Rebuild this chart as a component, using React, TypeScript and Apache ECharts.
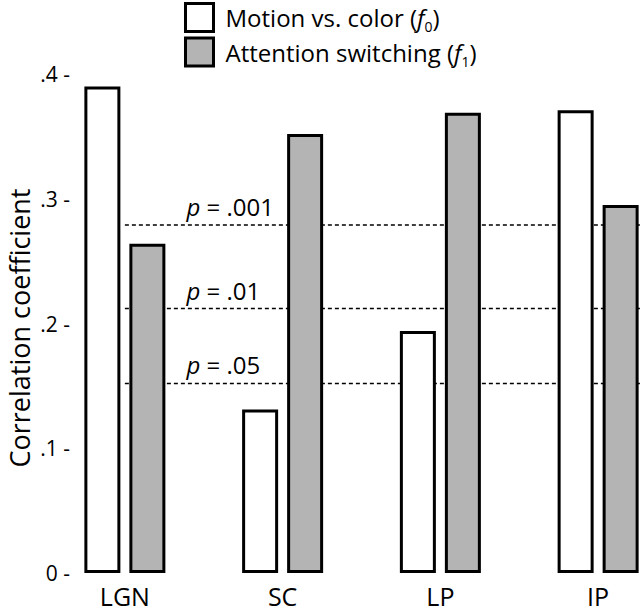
import React, { useEffect, useRef } from "react";
import * as echarts from "echarts";

const categories = ["LGN", "SC", "LP", "IP"];
const motionVsColor = [0.39, 0.131, 0.194, 0.371];
const attentionSwitching = [0.264, 0.352, 0.369, 0.295];
const pThresholds = [0.279, 0.212, 0.152];
const pLabels = [".001", ".01", ".05"];
const yTicks = [0, 0.1, 0.2, 0.3, 0.4];
const yTickLabels = ["0", ".1", ".2", ".3", ".4"];
const yAxisTitle = "Correlation coefficient";

const FONT = "Open Sans";

export default function App() {
  const ref = useRef<HTMLDivElement>(null);
  useEffect(() => {
    if (!ref.current) return;
    const chart = echarts.init(ref.current, undefined, { renderer: "svg" });
    const thresholdSeries = pThresholds.map((v, i) => ({
      type: "line",
      name: "p" + pLabels[i],
      xAxisIndex: 1,
      yAxisIndex: 0,
      z: 1,
      symbol: "circle",
      symbolSize: 1,
      showSymbol: true,
      itemStyle: { color: "rgba(0,0,0,0)" },
      lineStyle: { color: "#000", width: 1.5, type: [4, 3] },
      silent: true,
      data: [
        {
          value: [0, v],
          label: {
            show: true,
            position: [62, -18],
            align: "left",
            verticalAlign: "middle",
            formatter: "{i|p}{n| = " + pLabels[i] + "}",
            rich: {
              i: { fontFamily: FONT, fontSize: 24, fontStyle: "italic", color: "#000" },
              n: { fontFamily: FONT, fontSize: 24, color: "#000" },
            },
          },
        },
        { value: [3.5, v] },
      ],
    }));
    chart.setOption({
      animation: false,
      backgroundColor: "#fff",
      textStyle: { fontFamily: FONT },
      grid: {
        left: 46,
        top: 74,
        width: 631,
        height: 499,
        containLabel: false,
        outerBoundsMode: "none",
      },
      graphic: [
        {
          type: "text",
          x: 19,
          y: 328,
          rotation: Math.PI / 2,
          style: {
            text: yAxisTitle,
            fontFamily: FONT,
            fontSize: 27,
            fill: "#000",
            align: "center",
            verticalAlign: "middle",
          },
        },
      ],
      legend: {
        orient: "vertical",
        left: 184,
        top: 2,
        padding: 0,
        itemGap: 3,
        itemWidth: 28,
        itemHeight: 28,
        icon: "rect",
        data: ["Motion vs. color", "Attention switching"],
        itemStyle: { borderColor: "#000", borderWidth: 3 },
        formatter: (name: string) =>
          name === "Motion vs. color"
            ? "{n|Motion vs. color (}{i|f}{s|0}{n|)}"
            : "{n|Attention switching (}{i|f}{s|1}{n|)}",
        textStyle: {
          padding: [0, 0, 0, 7],
          rich: {
            n: { fontFamily: FONT, fontSize: 24, color: "#000", lineHeight: 30 },
            i: { fontFamily: FONT, fontSize: 24, fontStyle: "italic", color: "#000", lineHeight: 30 },
            s: { fontFamily: FONT, fontSize: 14, color: "#000", lineHeight: 32, verticalAlign: "bottom" },
          },
        },
      },
      xAxis: [
        {
          type: "category",
          data: categories,
          axisLine: { show: false },
          axisTick: { show: false },
          axisLabel: { fontFamily: FONT, fontSize: 25, color: "#000", margin: 10 },
        },
        { type: "value", min: -0.5, max: 3.5, show: false },
      ],
      yAxis: {
        type: "value",
        min: 0,
        max: 0.4,
        interval: 0.1,
        axisLine: { show: false },
        axisTick: { show: false },
        splitLine: { show: false },
        axisLabel: {
          fontFamily: FONT,
          fontSize: 21,
          color: "#000",
          margin: -24,
          formatter: (v: number) => {
            const idx = yTicks.findIndex((t) => Math.abs(t - v) < 1e-9);
            return yTickLabels[idx] + " -";
          },
        },
      },
      series: [
        ...thresholdSeries,
        {
          type: "bar",
          name: "Motion vs. color",
          z: 3,
          barWidth: 36,
          barGap: "25%",
          itemStyle: { color: "#fff", borderColor: "#000", borderWidth: 3 },
          data: motionVsColor,
        },
        {
          type: "bar",
          name: "Attention switching",
          z: 3,
          barWidth: 36,
          barGap: "25%",
          itemStyle: { color: "#b4b4b4", borderColor: "#000", borderWidth: 3 },
          data: attentionSwitching,
        },
      ],
    });
    return () => chart.dispose();
  }, []);
  return (
    <div
      ref={ref}
      style={{ position: "fixed", left: 0, top: 0, width: 640, height: 611 }}
    />
  );
}
